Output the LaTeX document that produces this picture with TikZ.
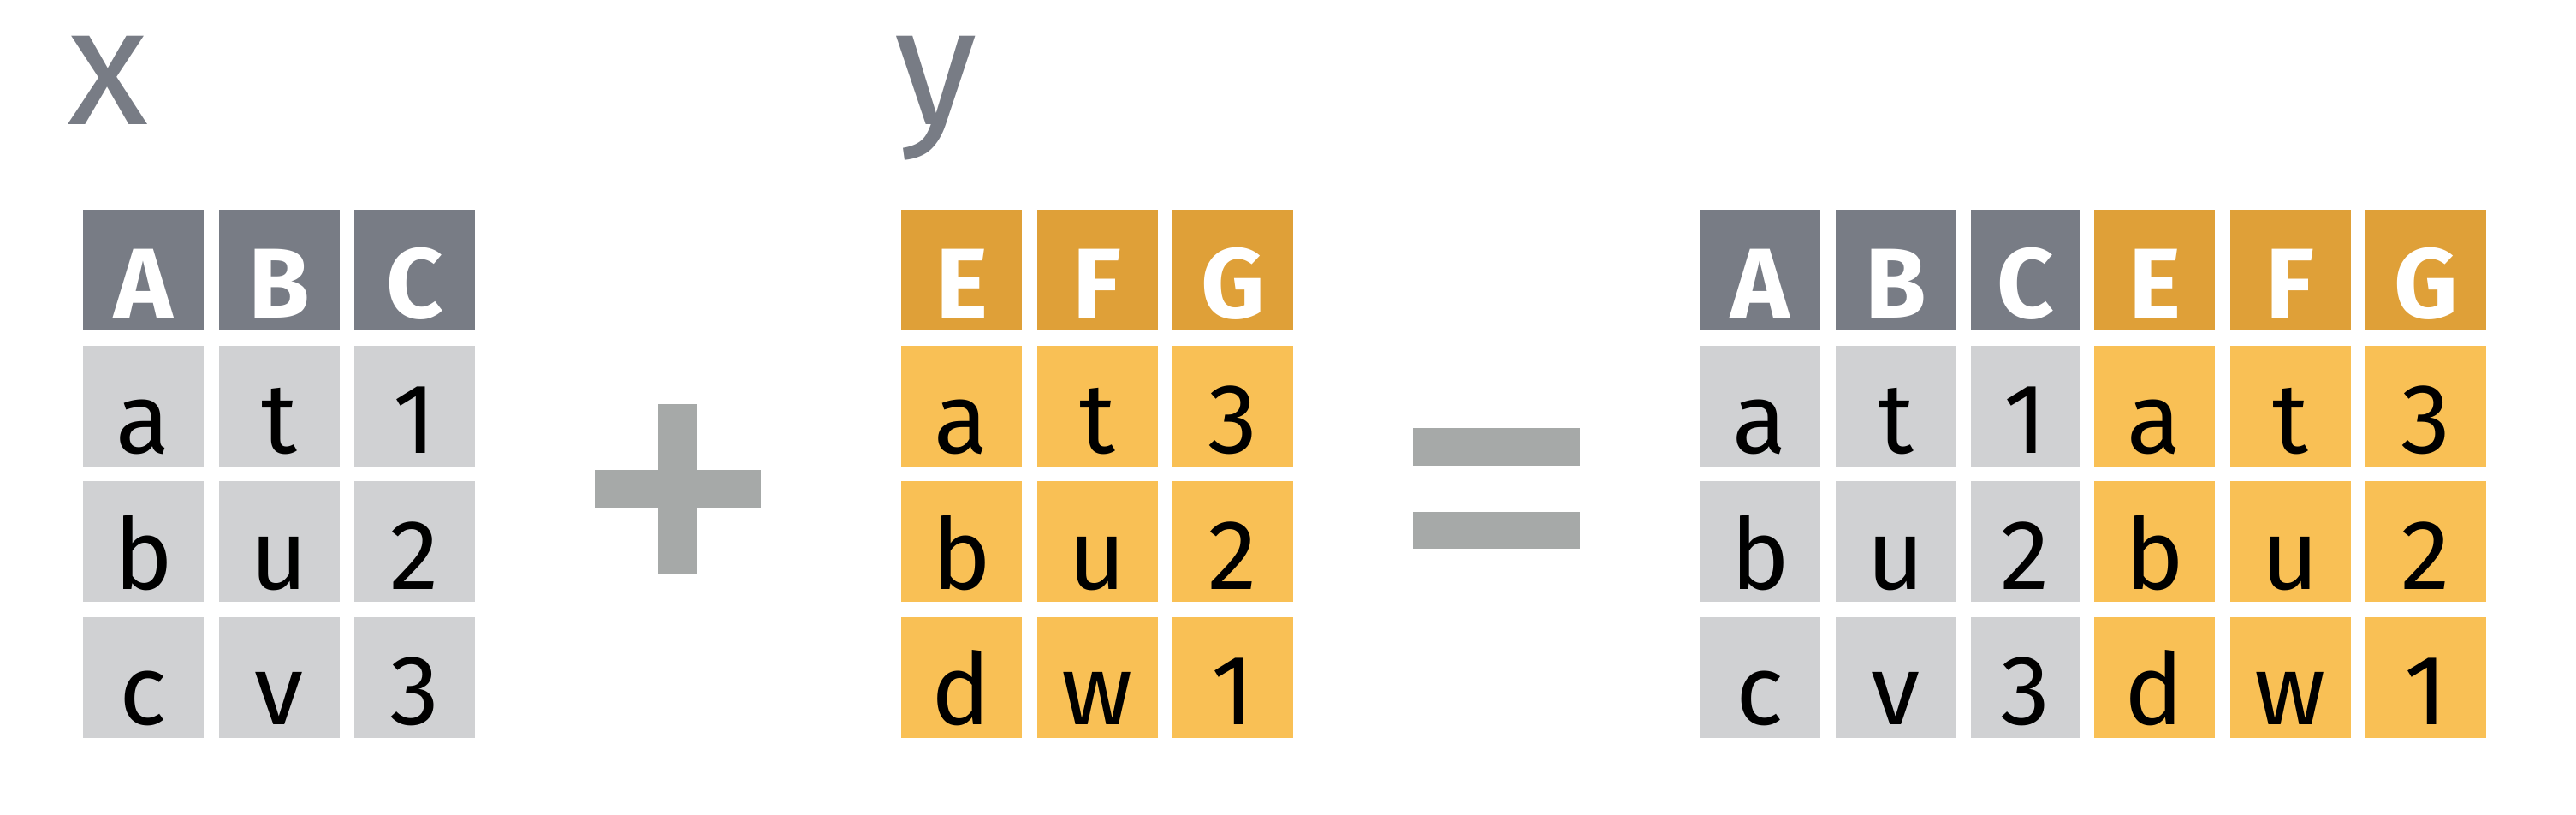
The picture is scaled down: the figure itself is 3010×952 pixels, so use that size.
\documentclass[tikz,border=0pt]{standalone}
\usepackage{fontspec}
\setmainfont{Fira Sans}
\definecolor{hdgray}{RGB}{120,124,133}
\definecolor{cellgray}{RGB}{208,209,211}
\definecolor{hdorange}{RGB}{223,160,56}
\definecolor{cellorange}{RGB}{249,192,85}
\definecolor{opgray}{RGB}{166,169,168}
\definecolor{lblgray}{RGB}{120,124,133}
\begin{document}
\begin{tikzpicture}[x=0.25pt,y=-0.25pt,
  cellbase/.style={anchor=north west, inner sep=0pt, outer sep=0pt,
    minimum width=35.25pt, minimum height=35.25pt,
    text height=31.5pt, text depth=3.75pt,
    font=\fontsize{29}{29}\selectfont},
  hdg/.style={cellbase, fill=hdgray, text=white, font=\fontsize{29}{29}\selectfont\bfseries},
  hdo/.style={cellbase, fill=hdorange, text=white, font=\fontsize{29}{29}\selectfont\bfseries},
  cg/.style={cellbase, fill=cellgray, text=black},
  co/.style={cellbase, fill=cellorange, text=black},
  narrow/.style={minimum width=31.75pt},
  opbar/.style={fill=opgray},
  tlabel/.style={anchor=base, text=lblgray, inner sep=0pt, font=\fontsize{49}{49}\selectfont}]
\useasboundingbox (0,0) rectangle (3010,952);
% labels
\node[tlabel] (lx) at (126.5,146) {x};
\node[tlabel] (ly) at (1093.5,146) {y};
% table x
\foreach \t [count=\i from 0] in {A,B,C}
  \node[hdg] (xh-\i) at ({97+158.5*\i},245) {\t};
\foreach \a/\b/\c [count=\j from 1] in {a/t/1, b/u/2, c/v/3} {
  \node[cg] (x-\j-0) at (97,{245+158.5*\j}) {\a};
  \node[cg] (x-\j-1) at (255.5,{245+158.5*\j}) {\b};
  \node[cg] (x-\j-2) at (414,{245+158.5*\j}) {\c};
}
% table y
\foreach \t [count=\i from 0] in {E,F,G}
  \node[hdo] (yh-\i) at ({1053+158.5*\i},245) {\t};
\foreach \a/\b/\c [count=\j from 1] in {a/t/3, b/u/2, d/w/1} {
  \node[co] (y-\j-0) at (1053,{245+158.5*\j}) {\a};
  \node[co] (y-\j-1) at (1211.5,{245+158.5*\j}) {\b};
  \node[co] (y-\j-2) at (1370,{245+158.5*\j}) {\c};
}
% plus
\fill[opbar] (695,549) rectangle (889,593);
\fill[opbar] (769,472) rectangle (815,671);
% equals
\fill[opbar] (1651,500) rectangle (1846,544);
\fill[opbar] (1651,598) rectangle (1846,641);
% result table
\node[hdg] (rh-0) at (1986,245) {A};
\node[hdg] (rh-1) at (2144.5,245) {B};
\node[hdg,narrow] (rh-2) at (2303,245) {C};
\node[hdo] (rh-3) at (2447,245) {E};
\node[hdo] (rh-4) at (2605.5,245) {F};
\node[hdo] (rh-5) at (2764,245) {G};
\foreach \a/\b/\c/\d/\e/\f [count=\j from 1] in {a/t/1/a/t/3, b/u/2/b/u/2, c/v/3/d/w/1} {
  \node[cg] (r-\j-0) at (1986,{245+158.5*\j}) {\a};
  \node[cg] (r-\j-1) at (2144.5,{245+158.5*\j}) {\b};
  \node[cg,narrow] (r-\j-2) at (2303,{245+158.5*\j}) {\c};
  \node[co] (r-\j-3) at (2447,{245+158.5*\j}) {\d};
  \node[co] (r-\j-4) at (2605.5,{245+158.5*\j}) {\e};
  \node[co] (r-\j-5) at (2764,{245+158.5*\j}) {\f};
}
\end{tikzpicture}
\end{document}
